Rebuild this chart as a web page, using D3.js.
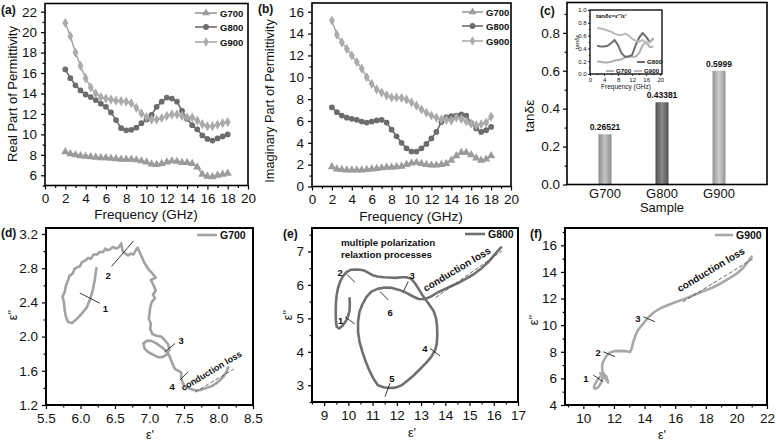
<!DOCTYPE html>
<html>
<head>
<meta charset="utf-8">
<script src="https://cdn.jsdelivr.net/npm/d3@7"></script>
<style>
body{margin:0;background:#fff;}
text{font-family:"Liberation Sans",Arial,sans-serif;}
</style>
</head>
<body>
<div id="fig"></div>
<script>
// ---- data ----
const freq = [2,2.5,3,3.5,4,4.5,5,5.5,6,6.5,7,7.5,8,8.5,9,9.5,10,10.5,11,11.5,12,12.5,13,13.5,14,14.5,15,15.5,16,16.5,17,17.5,18];
const realG700 = [8.3,8.1,8.0,7.9,7.85,7.8,7.75,7.7,7.7,7.65,7.6,7.55,7.55,7.55,7.5,7.4,7.3,7.1,7.05,7.15,7.3,7.4,7.35,7.25,7.25,7.15,6.8,6.1,5.9,5.85,6.0,6.1,6.2];
const realG800 = [16.35,15.5,14.8,14.3,13.9,13.65,13.35,13.0,12.7,12.15,11.4,10.6,10.4,10.45,10.65,11.1,11.45,11.9,12.7,13.2,13.6,13.5,13.2,12.3,11.5,10.9,10.5,9.9,9.55,9.4,9.6,9.8,10.0];
const realG900 = [20.9,19.6,18.0,16.7,15.5,14.6,14.0,13.65,13.5,13.4,13.3,13.25,13.2,13.05,12.6,12.05,11.7,11.45,11.45,11.6,11.8,11.95,11.95,11.8,11.65,11.65,11.35,11.0,10.8,10.8,10.95,11.1,11.2];
const imagG700 = [1.8,1.6,1.55,1.5,1.5,1.5,1.5,1.55,1.6,1.65,1.7,1.75,1.75,1.8,1.85,2.0,2.15,2.2,2.1,2.0,1.95,1.95,2.0,2.1,2.4,2.8,3.1,3.1,2.9,2.6,2.4,2.5,2.8];
const imagG800 = [7.25,6.8,6.5,6.3,6.2,6.1,5.95,5.85,5.95,6.05,6.1,5.85,5.2,4.6,4.0,3.5,3.2,3.2,3.5,3.9,4.4,5.0,5.9,6.35,6.45,6.5,6.6,6.5,5.8,5.3,5.0,5.15,5.45];
const imagG900 = [15.2,13.9,13.2,12.6,12.0,11.4,10.8,10.0,9.4,8.9,8.6,8.35,8.15,8.15,8.1,7.95,7.7,7.4,7.05,6.75,6.5,6.3,6.15,6.1,6.05,6.3,6.2,5.95,5.75,5.6,5.7,5.85,6.4];

const samples = ["G700","G800","G900"];
const tanMean = [0.26521,0.43381,0.5999];

const freqInset = [2,3,4,5,6,7,8,9,10,11,12,13,14,15,16,17,18];
const tanG700 = [0.2,0.19,0.18,0.18,0.19,0.21,0.22,0.23,0.26,0.28,0.27,0.27,0.33,0.45,0.5,0.42,0.43];
const tanG800 = [0.44,0.43,0.43,0.44,0.48,0.53,0.45,0.32,0.27,0.27,0.3,0.45,0.57,0.64,0.58,0.5,0.55];
const tanG900 = [0.72,0.71,0.7,0.68,0.66,0.63,0.61,0.61,0.63,0.6,0.55,0.52,0.5,0.53,0.48,0.5,0.57];

// Cole-Cole traces [eps', eps'']
const coleG700 = [[6.23,2.80],[6.21,2.68],[6.18,2.55],[6.14,2.44],[6.09,2.34],[6.02,2.27],[5.95,2.21],[5.88,2.16],[5.82,2.17],[5.79,2.23],[5.77,2.31],[5.76,2.40],[5.74,2.47],[5.77,2.52],[5.79,2.60],[5.82,2.66],[5.84,2.71],[5.89,2.74],[5.91,2.79],[5.95,2.81],[5.99,2.82],[6.02,2.87],[6.07,2.89],[6.11,2.92],[6.15,2.91],[6.19,2.96],[6.24,2.96],[6.28,2.99],[6.33,2.99],[6.36,3.03],[6.39,3.01],[6.43,3.02],[6.47,3.05],[6.52,3.03],[6.56,3.05],[6.59,3.09],[6.61,3.00],[6.65,2.97],[6.69,2.95],[6.73,2.97],[6.77,2.96],[6.80,3.01],[6.83,3.04],[6.86,2.98],[6.89,2.93],[6.92,2.87],[6.96,2.82],[6.99,2.78],[7.03,2.75],[7.09,2.69],[7.02,2.66],[7.06,2.60],[7.09,2.54],[7.05,2.49],[7.08,2.45],[7.03,2.40],[7.01,2.34],[7.00,2.27],[6.99,2.21],[7.02,2.15],[7.01,2.09],[7.04,2.03],[7.10,2.01],[7.17,2.00],[7.22,1.96],[7.27,1.91],[7.29,1.85],[7.25,1.79],[7.19,1.76],[7.12,1.76],[7.05,1.79],[6.98,1.82],[6.93,1.86],[6.91,1.92],[6.96,1.95],[7.03,1.95],[7.10,1.92],[7.17,1.88],[7.23,1.84],[7.28,1.79],[7.31,1.73],[7.34,1.67],[7.37,1.62],[7.42,1.60],[7.46,1.58],[7.46,1.52],[7.48,1.46],[7.51,1.42],[7.56,1.40],[7.62,1.38],[7.69,1.37],[7.76,1.38],[7.83,1.40],[7.90,1.42],[7.96,1.45],[8.02,1.49],[8.07,1.53],[8.11,1.58],[8.14,1.64]];
const coleG800 = [[10.05,5.60],[10.06,5.45],[10.05,5.22],[9.98,5.05],[9.90,4.92],[9.76,4.78],[9.62,4.70],[9.52,4.75],[9.49,4.90],[9.48,5.10],[9.48,5.30],[9.49,5.50],[9.52,5.70],[9.57,5.90],[9.66,6.10],[9.78,6.26],[9.92,6.38],[10.10,6.45],[10.30,6.46],[10.50,6.45],[10.68,6.42],[10.85,6.35],[11.00,6.29],[11.20,6.25],[11.45,6.23],[11.70,6.22],[11.95,6.21],[12.20,6.23],[12.40,6.23],[12.60,6.18],[12.75,6.05],[12.90,5.88],[13.05,5.70],[13.20,5.55],[13.35,5.40],[13.52,5.22],[13.62,5.00],[13.66,4.75],[13.67,4.50],[13.65,4.25],[13.58,4.05],[13.42,3.85],[13.20,3.66],[12.95,3.48],[12.70,3.30],[12.45,3.14],[12.20,3.00],[11.95,2.93],[11.70,2.92],[11.45,2.94],[11.22,3.00],[11.05,3.18],[10.88,3.42],[10.72,3.70],[10.58,4.00],[10.46,4.30],[10.40,4.60],[10.40,4.90],[10.46,5.20],[10.58,5.42],[10.75,5.64],[10.95,5.80],[11.20,5.88],[11.50,5.92],[11.80,5.91],[12.10,5.85],[12.40,5.76],[12.65,5.66],[12.90,5.58],[13.15,5.57],[13.40,5.65],[13.70,5.78],[14.00,5.88],[14.30,5.98],[14.60,6.08],[14.90,6.20],[15.20,6.33],[15.50,6.50],[15.80,6.70],[16.05,6.92],[16.30,7.12]];
const coleG900 = [[11.05,6.10],[10.90,5.85],[10.75,5.55],[10.68,5.30],[10.80,5.22],[10.98,5.35],[11.15,5.65],[11.25,5.95],[11.20,6.20],[11.10,6.40],[11.22,6.30],[11.40,6.05],[11.55,5.80],[11.62,5.70],[11.55,5.95],[11.50,6.15],[11.35,6.30],[11.25,6.55],[11.22,6.85],[11.25,7.15],[11.38,7.45],[11.55,7.75],[11.75,7.95],[12.05,8.05],[12.40,8.07],[12.75,8.05],[13.05,7.98],[13.15,8.20],[13.25,8.70],[13.40,9.20],[13.55,9.60],[13.75,9.90],[14.00,10.25],[14.30,10.65],[14.60,10.95],[15.00,11.25],[15.50,11.50],[16.00,11.72],[16.50,11.92],[17.00,12.15],[17.50,12.40],[18.00,12.62],[18.50,12.85],[19.00,13.15],[19.50,13.50],[20.00,13.85],[20.40,14.25],[20.75,14.75],[21.00,15.15]];

// relaxation markers [label, x1, y1, x2, y2, labelX, labelY] in data units
const marksD = [["1",5.99,2.51,6.28,2.39,6.36,2.33],["2",6.45,2.82,6.77,3.12,6.40,2.71],["3",7.22,1.82,7.37,1.92,7.46,1.95],["4",7.44,1.49,7.56,1.59,7.33,1.42]];
const marksE = [["1",9.86,5.05,10.27,4.83,9.68,4.92],["2",9.93,6.32,10.27,6.08,9.66,6.36],["3",12.27,5.80,12.47,6.10,12.63,6.27],["4",13.37,4.10,13.78,3.88,13.16,4.08],["5",11.51,2.66,11.72,3.06,11.8,3.19],["6",11.31,5.80,11.65,5.55,11.72,5.17]];
const marksF = [["1",10.65,6.25,11.3,5.75,10.17,6.0],["2",11.3,8.0,12.07,7.63,10.96,7.9],["3",13.92,10.63,14.68,10.26,13.57,10.45]];

const C700 = "#9c9c9c", C800 = "#6c6c6c", C900 = "#ababab";
const FONT = "'Liberation Sans',Arial,sans-serif";

const svg = d3.select("#fig").append("svg").attr("width",776).attr("height",443);
svg.append("rect").attr("width",776).attr("height",443).attr("fill","#fff");

function frame(x, y, o){
  const g = svg.append("g");
  const y0 = y.range()[0];
  const x0 = x.range()[0];
  const fs = o.fs || 13.5;
  const tk = o.tk || 4;
  const bx = g.append("g").attr("transform",`translate(0,${y0})`);
  if(o.xMinor) bx.append("g").call(d3.axisBottom(x).tickValues(o.xMinor).tickSize(tk*0.6).tickFormat(""));
  if(o.xMajor) bx.append("g").call(d3.axisBottom(x).tickValues(o.xMajor).tickSize(tk).tickPadding(o.pad||5).tickFormat(o.xFmt||(d=>d)));
  const by = g.append("g").attr("transform",`translate(${x0},0)`);
  if(o.yMinor) by.append("g").call(d3.axisLeft(y).tickValues(o.yMinor).tickSize(tk*0.6).tickFormat(""));
  by.append("g").call(d3.axisLeft(y).tickValues(o.yMajor).tickSize(tk).tickPadding(o.pad||3).tickFormat(o.yFmt||(d=>d)));
  g.selectAll(".domain").remove();
  g.selectAll(".tick text").attr("font-size",fs).attr("font-family",FONT).attr("fill","#111");
  g.selectAll(".tick line").attr("stroke","#000").attr("stroke-width",o.sw||1.2);
  g.append("rect")
    .attr("x",x0).attr("y",y.range()[1])
    .attr("width",x.range()[1]-x0).attr("height",y0-y.range()[1])
    .attr("fill","none").attr("stroke","#000").attr("stroke-width",o.bw||1.6);
  return g;
}

function label(txt, x, y, o){
  o = o || {};
  const t = svg.append("text").attr("x",x).attr("y",y).text(txt)
    .attr("font-size",o.fs||13.5).attr("fill","#111")
    .attr("font-weight",o.bold?"bold":"normal")
    .attr("text-anchor",o.anchor||"middle");
  if(o.rot) t.attr("transform",`rotate(${o.rot},${x},${y})`);
  if(o.dy) t.attr("dy",o.dy);
  return t;
}

const sym = {G700:d3.symbolTriangle, G800:d3.symbolCircle, G900:d3.symbolDiamond};
const col = {G700:C700, G800:C800, G900:C900};

function series(x, y, xs, ys, name){
  const line = d3.line().x((d,i)=>x(xs[i])).y(d=>y(d));
  svg.append("path").datum(ys).attr("d",line).attr("fill","none").attr("stroke",col[name]).attr("stroke-width",1.6);
  svg.append("g").selectAll("path").data(ys).join("path")
    .attr("transform",(d,i)=>`translate(${x(xs[i])},${y(d)})`)
    .attr("d",d3.symbol(sym[name], name==="G800"?26:30))
    .attr("fill",col[name]);
}

function legendRows(x1, x2, ys, names, fs){
  names.forEach((n,i)=>{
    svg.append("line").attr("x1",x1).attr("x2",x2).attr("y1",ys[i]).attr("y2",ys[i]).attr("stroke",col[n]).attr("stroke-width",1.6);
    svg.append("path").attr("transform",`translate(${(x1+x2)/2},${ys[i]})`).attr("d",d3.symbol(sym[n],26)).attr("fill",col[n]);
    label(n, x2+3, ys[i]+3.5, {fs:fs, bold:true, anchor:"start"});
  });
}

// ---- (a) real part ----
const xa = d3.scaleLinear().domain([0,20]).range([45,248]);
const ya = d3.scaleLinear().domain([5,22.8]).range([185.5,3.5]);
frame(xa, ya, {xMajor:d3.range(0,21,2), xMinor:d3.range(1,20,2), yMajor:d3.range(6,23,2), yMinor:[5,7,9,11,13,15,17,19,21], pad:4});
series(xa, ya, freq, realG700, "G700");
series(xa, ya, freq, realG800, "G800");
series(xa, ya, freq, realG900, "G900");
legendRows(195, 217, [13,27,42], samples, 9.5);
label("Frequency (GHz)", 146, 219);
label("Real Part of Permittivity", 12, 94, {rot:-90, dy:"0.35em", fs:13});
label("(a)", 1, 14, {bold:true, fs:12, anchor:"start"});

// ---- (b) imaginary part ----
const xb = d3.scaleLinear().domain([0,20]).range([312,511]);
const yb = d3.scaleLinear().domain([0,16.8]).range([186.5,3]);
frame(xb, yb, {xMajor:d3.range(0,21,2), xMinor:d3.range(1,20,2), yMajor:d3.range(0,17,2), yMinor:d3.range(1,17,2), pad:4});
series(xb, yb, freq, imagG700, "G700");
series(xb, yb, freq, imagG800, "G800");
series(xb, yb, freq, imagG900, "G900");
legendRows(462, 483, [12,26,41], samples, 9.5);
label("Frequency (GHz)", 411, 221);
label("Imaginary Part of Permittivity", 270, 101, {rot:-90, dy:"0.35em", fs:12.8});
label("(b)", 258, 13, {bold:true, fs:12, anchor:"start"});

// ---- (c) bars ----
const xc = d3.scalePoint().domain(samples).range([605,719]);
const yc = d3.scaleLinear().domain([0,0.96]).range([184.5,2.5]);
const xcBox = d3.scaleLinear().domain([0,1]).range([567,767]);
const defs = svg.append("defs");
const barCol = {G700:["#8c8c8c","#c4c4c4"], G800:["#4f4f4f","#8a8a8a"], G900:["#939393","#cfcfcf"]};
samples.forEach(s=>{
  const gr = defs.append("linearGradient").attr("id","gr"+s).attr("x1","0").attr("x2","1").attr("y1","0").attr("y2","0");
  gr.append("stop").attr("offset","0").attr("stop-color",barCol[s][0]);
  gr.append("stop").attr("offset","0.5").attr("stop-color",barCol[s][1]);
  gr.append("stop").attr("offset","1").attr("stop-color",barCol[s][0]);
});
svg.append("g").selectAll("rect").data(tanMean).join("rect")
  .attr("x",(d,i)=>xc(samples[i])-6.5).attr("width",13)
  .attr("y",d=>yc(d)).attr("height",d=>yc(0)-yc(d))
  .attr("fill",(d,i)=>`url(#gr${samples[i]})`);
svg.append("g").selectAll("text").data(tanMean).join("text")
  .attr("x",(d,i)=>xc(samples[i])).attr("y",d=>yc(d)-4)
  .attr("text-anchor","middle").attr("font-size",8.5).attr("font-weight","bold").attr("fill","#111")
  .text(d=>String(d));
frame(xcBox, yc, {yMajor:[0,0.2,0.4,0.6,0.8], yMinor:[0.1,0.3,0.5,0.7,0.9], yFmt:d3.format(".1f")});
svg.append("g").selectAll("text").data(samples).join("text")
  .attr("x",d=>xc(d)).attr("y",198).attr("text-anchor","middle").attr("font-size",13).attr("fill","#111").text(d=>d);
label("Sample", 662, 212, {fs:13});
label("tanδε", 529, 116, {rot:-90, dy:"0.35em"});
label("(c)", 540, 15, {bold:true, fs:12, anchor:"start"});

// inset
const xi = d3.scaleLinear().domain([0,20.5]).range([590,662]);
const yi = d3.scaleLinear().domain([0,1.0]).range([74,10]);
svg.append("rect").attr("x",590).attr("y",10).attr("width",72).attr("height",64).attr("fill","#fff");
[[tanG700,"#b0b0b0"],[tanG800,"#6e6e6e"],[tanG900,"#bcbcbc"]].forEach(([v,c])=>{
  svg.append("path").datum(v).attr("d",d3.line().x((d,i)=>xi(freqInset[i])).y(d=>yi(d)))
    .attr("fill","none").attr("stroke",c).attr("stroke-width",2);
});
frame(xi, yi, {xMajor:[0,4,8,12,16,20], xMinor:[2,6,10,14,18], yMajor:[0,0.2,0.4,0.6,0.8,1.0], yMinor:[0.1,0.3,0.5,0.7,0.9], yFmt:d3.format(".1f"), fs:6, tk:2, pad:1.5, sw:0.8, bw:1.3});
label("Frequency (GHz)", 626, 89, {fs:6.5});
label("tanδε", 577, 42, {fs:6, rot:-90, dy:"0.35em"});
label("tanδε=ε''/ε'", 596, 18, {fs:6, bold:true, anchor:"start"});
[[637,645,62,"G800",C800],[606,614,71,"G700","#b0b0b0"],[634,642,71,"G900","#bcbcbc"]].forEach(([a,b,yy,n,c])=>{
  svg.append("line").attr("x1",a).attr("x2",b).attr("y1",yy).attr("y2",yy).attr("stroke",c).attr("stroke-width",2);
  label(n, b+2, yy+2.2, {fs:6.2, bold:true, anchor:"start"});
});

// ---- Cole-Cole panels ----
function cole(x, y, pts, c, marks, fs){
  svg.append("path").datum(pts).attr("d",d3.line().x(d=>x(d[0])).y(d=>y(d[1])))
    .attr("fill","none").attr("stroke",c).attr("stroke-width",2.6).attr("stroke-linejoin","round").attr("stroke-linecap","round");
  marks.forEach(m=>{
    svg.append("line").attr("x1",x(m[1])).attr("y1",y(m[2])).attr("x2",x(m[3])).attr("y2",y(m[4])).attr("stroke","#222").attr("stroke-width",0.9);
    label(m[0], x(m[5]), y(m[6]), {fs:fs, bold:true, dy:"0.35em"});
  });
}
function legendLine(x1, x2, yy, n, c, fs){
  svg.append("line").attr("x1",x1).attr("x2",x2).attr("y1",yy).attr("y2",yy).attr("stroke",c).attr("stroke-width",2.6);
  label(n, x2+3, yy+3.7, {fs:fs, bold:true, anchor:"start"});
}
function fitLine(x, y, a, b){
  svg.append("line").attr("x1",x(a[0])).attr("y1",y(a[1])).attr("x2",x(b[0])).attr("y2",y(b[1]))
    .attr("stroke","#444").attr("stroke-width",0.8).attr("stroke-dasharray","4,2");
}

// (d)
const xd = d3.scaleLinear().domain([5.5,8.5]).range([46,253]);
const yd = d3.scaleLinear().domain([1.2,3.27]).range([405,228]);
cole(xd, yd, coleG700, "#a2a2a2", marksD, 9.5);
fitLine(xd, yd, [7.66,1.35], [8.22,1.62]);
frame(xd, yd, {xMajor:[5.5,6,6.5,7,7.5,8,8.5], xMinor:[5.75,6.25,6.75,7.25,7.75,8.25], xFmt:d3.format(".1f"), yMajor:[1.2,1.6,2.0,2.4,2.8,3.2], yMinor:[1.4,1.8,2.2,2.6,3.0], yFmt:d3.format(".1f"), bw:2, pad:4});
label("conduction loss", xd(7.92), yd(1.57), {fs:9, bold:true, rot:-31});
legendLine(197, 217, 235, "G700", "#a2a2a2", 10.5);
label("ε'", 150, 439, {fs:12.5});
label("ε''", 13, 315, {rot:-90, dy:"0.35em", fs:12.5});
label("(d)", 1, 237, {bold:true, fs:12, anchor:"start"});

// (e)
const xe = d3.scaleLinear().domain([8.5,17]).range([312,518]);
const ye = d3.scaleLinear().domain([2.5,7.7]).range([402,228]);
cole(xe, ye, coleG800, "#707070", marksE, 9.5);
fitLine(xe, ye, [13.6,5.62], [16.35,7.02]);
frame(xe, ye, {xMajor:d3.range(9,17.1,1), xMinor:d3.range(8.5,17.1,1), yMajor:[3,4,5,6,7], yMinor:[2.5,3.5,4.5,5.5,6.5,7.5], bw:2, pad:4});
label("conduction loss", xe(14.55), ye(6.38), {fs:10, bold:true, rot:-31});
label("multiple polarization", 341, 246, {fs:9.7, bold:true, anchor:"start"});
label("relaxtion processes", 341, 258, {fs:9.7, bold:true, anchor:"start"});
legendLine(465, 485, 234, "G800", "#707070", 10.5);
label("ε'", 412, 437, {fs:12.5});
label("ε''", 288, 315, {rot:-90, dy:"0.35em", fs:12.5});
label("(e)", 283, 238, {bold:true, fs:12, anchor:"start"});

// (f)
const xf = d3.scaleLinear().domain([8.8,22]).range([565,767]);
const yf = d3.scaleLinear().domain([4,17.3]).range([405,228]);
cole(xf, yf, coleG900, "#a8a8a8", marksF, 9.5);
fitLine(xf, yf, [16.5,11.75], [21.1,15.0]);
frame(xf, yf, {xMajor:d3.range(10,22.1,2), xMinor:d3.range(9,22,2), yMajor:d3.range(4,16.1,2), yMinor:d3.range(5,17.1,2), bw:2, pad:4});
label("conduction loss", xf(18.45), yf(13.95), {fs:10, bold:true, rot:-31});
legendLine(715, 733, 235, "G900", "#a8a8a8", 10.5);
label("ε'", 662, 439, {fs:12.5});
label("ε''", 534, 320, {rot:-90, dy:"0.35em", fs:12.5});
label("(f)", 530, 238, {bold:true, fs:12, anchor:"start"});
</script>
</body>
</html>
